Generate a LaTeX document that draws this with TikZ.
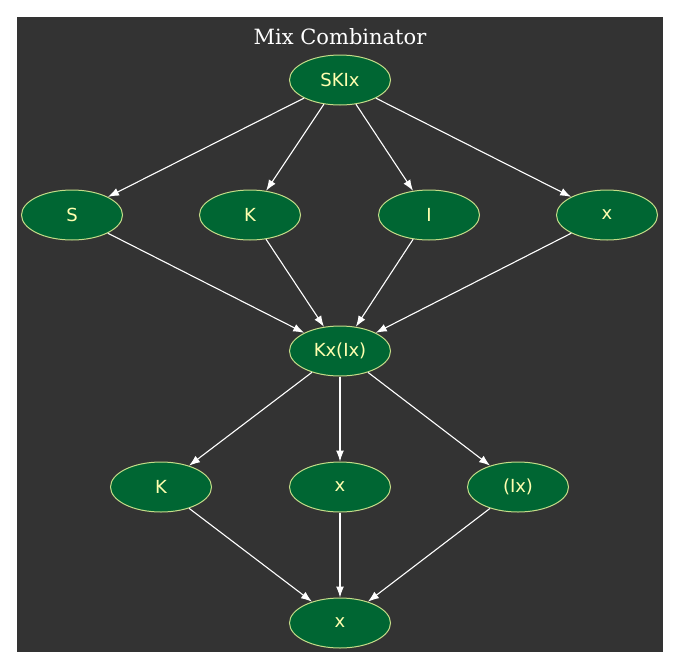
\documentclass[tikz,border=0pt]{standalone}
\usepackage{fontspec}
\setmainfont{DejaVu Serif}
\newfontfamily\nodefont{DejaVu Sans}
\usetikzlibrary{shapes.geometric,arrows.meta}
\definecolor{bgc}{HTML}{333333}
\definecolor{nfill}{HTML}{006633}
\definecolor{nborder}{HTML}{C4DC88}
\definecolor{ntext}{HTML}{FFFFB0}
\tikzset{
  comb/.style={ellipse, draw=nborder, fill=nfill, line width=1pt,
    minimum width=101pt, minimum height=50pt, inner sep=0pt,
    text=ntext, font=\nodefont\fontsize{18}{21}\selectfont},
  edge/.style={draw=white, line width=1.1pt, -{Latex[length=11pt,width=8pt]}}
}
\begin{document}
\begin{tikzpicture}[x=1pt,y=-1pt]
\useasboundingbox (0,0) rectangle (680,670);
\fill[bgc] (17,17) rectangle (663,652);
\node[text=white, font=\fontsize{21}{25}\selectfont] (title) at (340,37) {Mix Combinator};
\node[comb] (skix) at (340,80) {SKIx};
\node[comb] (s) at (72,215) {S};
\node[comb] (k1) at (250,215) {K};
\node[comb] (i1) at (429,215) {I};
\node[comb] (x1) at (607,215) {x};
\node[comb] (kxix) at (340,351) {Kx(Ix)};
\node[comb] (k2) at (161,487) {K};
\node[comb] (x2) at (340,487) {x};
\node[comb] (ix) at (518,487) {(Ix)};
\node[comb] (x3) at (340,623) {x};
\foreach \a/\b in {skix/s, skix/k1, skix/i1, skix/x1, s/kxix, k1/kxix, i1/kxix, x1/kxix, kxix/k2, kxix/x2, kxix/ix, k2/x3, x2/x3, ix/x3}
  \draw[edge] (\a) -- (\b);
\end{tikzpicture}
\end{document}
